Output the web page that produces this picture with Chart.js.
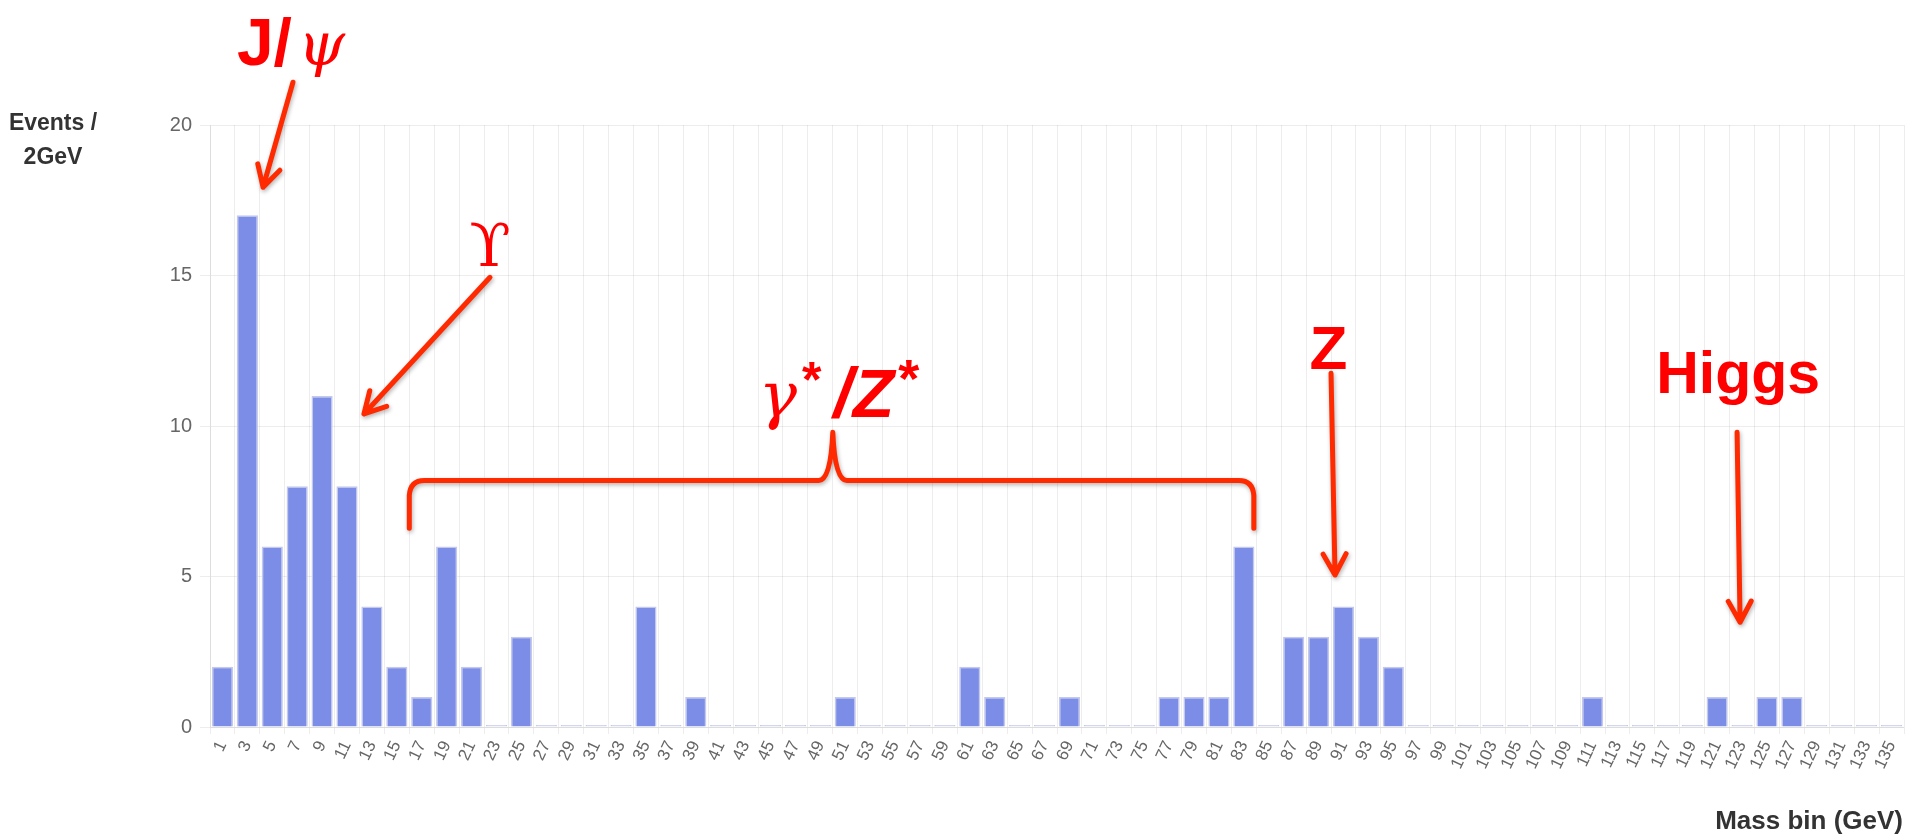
<!DOCTYPE html>
<html>
<head>
<meta charset="utf-8">
<script src="https://cdn.jsdelivr.net/npm/chart.js@4.4.0/dist/chart.umd.min.js"></script>
<style>
  html, body { margin: 0; padding: 0; background: #fff; }
  #wrap { width: 1915px; height: 836px; }
</style>
</head>
<body>
<div id="wrap"><canvas id="grafico_massa" width="1915" height="836"></canvas></div>
<script>
// ----------------------- Dados --------------------------------------------//

var massBins = ['1', '3', '5', '7', '9', '11', '13', '15', '17', '19',
  '21', '23', '25', '27', '29', '31', '33', '35', '37', '39',
  '41', '43', '45', '47', '49', '51', '53', '55', '57', '59',
  '61', '63', '65', '67', '69', '71', '73', '75', '77', '79',
  '81', '83', '85', '87', '89', '91', '93', '95', '97', '99',
  '101', '103', '105', '107', '109', '111', '113', '115', '117', '119',
  '121', '123', '125', '127', '129', '131', '133', '135'];

var events = [2, 17, 6, 8, 11, 8, 4, 2, 1, 6,
  2, 0, 3, 0, 0, 0, 0, 4, 0, 1,
  0, 0, 0, 0, 0, 1, 0, 0, 0, 0,
  2, 1, 0, 0, 1, 0, 0, 0, 1, 1,
  1, 6, 0, 3, 3, 4, 3, 2, 0, 0,
  0, 0, 0, 0, 0, 1, 0, 0, 0, 0,
  1, 0, 1, 1, 0, 0, 0, 0];

var yTicks = [0, 5, 10, 15, 20];

var labelUpsilon = 'ϒ';
var labelZ = 'Z';
var labelHiggs = 'Higgs';

// ----------------------- Anotações --------------------------------------------//

var RED = '#ff0000';
var ARROW = '#ff2a00';

var anotacoes = {
  id: 'anotacoes',
  afterDraw: function (chart) {
    var c = chart.ctx, xs = chart.scales.x, ys = chart.scales.y;
    function px(i) { return xs.getPixelForValue(i); }
    function py(v) { return ys.getPixelForValue(v); }

    c.save();

    // axis titles
    c.fillStyle = '#333';
    c.font = 'bold 23px "Liberation Sans", Arial, sans-serif';
    c.textAlign = 'center';
    c.textBaseline = 'middle';
    c.fillText('Events /', 53, 124);
    c.fillText('2GeV', 53, 158);
    c.font = 'bold 26px "Liberation Sans", Arial, sans-serif';
    c.textAlign = 'right';
    c.fillText('Mass bin (GeV)', 1903, 822);

    // red text, made of runs [text, font, dy, gap]
    function texto(runs, i, v) {
      c.textAlign = 'left';
      c.textBaseline = 'alphabetic';
      c.fillStyle = RED;
      var total = 0;
      runs.forEach(function (r) { c.font = r[1]; total += c.measureText(r[0]).width + (r[3] || 0); });
      var x = px(i) - total / 2, y = py(v);
      runs.forEach(function (r) {
        c.font = r[1];
        c.fillText(r[0], x, y + (r[2] || 0));
        x += c.measureText(r[0]).width + (r[3] || 0);
      });
    }

    function seta(i1, v1, i2, v2) {
      var x1 = px(i1), y1 = py(v1), x2 = px(i2), y2 = py(v2);
      var a = Math.atan2(y2 - y1, x2 - x1), len = 24, spread = 0.5;
      c.beginPath();
      c.moveTo(x1, y1);
      c.lineTo(x2, y2);
      c.moveTo(x2 - len * Math.cos(a - spread), y2 - len * Math.sin(a - spread));
      c.lineTo(x2, y2);
      c.lineTo(x2 - len * Math.cos(a + spread), y2 - len * Math.sin(a + spread));
      c.stroke();
    }

    function chave(l, r, mid, vH, vEnd, vPeak) {
      var L = px(l), R = px(r), M = px(mid), H = py(vH), E = py(vEnd), P = py(vPeak);
      c.beginPath();
      c.moveTo(L, E);
      c.lineTo(L, H + 15);
      c.quadraticCurveTo(L + 1, H, L + 15, H);
      c.lineTo(M - 14, H);
      c.quadraticCurveTo(M - 2, H, M, P);
      c.quadraticCurveTo(M + 2, H, M + 14, H);
      c.lineTo(R - 15, H);
      c.quadraticCurveTo(R - 1, H, R, H + 15);
      c.lineTo(R, E);
      c.stroke();
    }

    var hand = '"Liberation Sans", Arial, sans-serif';
    var serif = '"DejaVu Serif", "Liberation Serif", serif';

    texto([['J/', 'bold 66px ' + hand, 0, 6], ['ψ', 'italic 60px ' + serif]], 2.75, 22.0);
    texto([[labelUpsilon, '60px ' + serif]], 10.74, 15.3);
    texto([['γ', 'italic 64px ' + serif, 0, 5], ['*', 'bold 50px ' + hand, -20, 12],
      ['/', 'bold italic 70px ' + hand, 0, 0], ['Z', 'bold italic 68px ' + hand, 0, 4],
      ['*', 'bold 54px ' + hand, -20]], 24.75, 10.3);
    texto([[labelZ, 'bold 62px ' + hand]], 44.4, 11.9);
    texto([[labelHiggs, 'bold 59px ' + hand]], 60.84, 11.08);

    c.strokeStyle = ARROW;
    c.lineWidth = 5;
    c.lineCap = 'round';
    c.lineJoin = 'round';
    c.shadowColor = 'rgba(0,0,0,0.3)';
    c.shadowBlur = 4;
    c.shadowOffsetX = 1;
    c.shadowOffsetY = 2;

    seta(2.83, 21.42, 1.63, 17.93);
    seta(10.74, 14.94, 5.68, 10.4);
    seta(44.5, 11.75, 44.66, 5.05);
    seta(60.8, 9.79, 60.92, 3.48);
    chave(7.5, 41.4, 24.5, 8.19, 6.6, 9.79);

    c.restore();
  }
};

// ----------------------- Gráfico --------------------------------------------//

var data = {
  labels: massBins,
  datasets: [
    {
      label: 'Events / 2GeV',
      data: events,
      backgroundColor: function (ctx) { return ctx.raw === 0 ? '#d3d7f1' : '#7b8de6'; },
      borderColor: 'rgba(196,201,236,1)',
      borderWidth: 1.5,
      minBarLength: 2,
      barPercentage: 0.85,
      categoryPercentage: 1
    }
  ]
};

var options = {
  responsive: false,
  animation: false,
  devicePixelRatio: 1,
  layout: { padding: { top: 125, right: 11, bottom: 0, left: 0 } },
  plugins: {
    legend: { display: false },
    tooltip: { enabled: false }
  },
  scales: {
    x: {
      grid: { color: 'rgba(0,0,0,0.07)', tickLength: 7, offset: true },
      border: { color: 'rgba(0,0,0,0.07)' },
      ticks: {
        autoSkip: false,
        minRotation: 65,
        maxRotation: 65,
        padding: 4,
        color: '#666',
        font: { family: '"Liberation Sans", Arial, sans-serif', size: 17 }
      },
      afterFit: function (scale) { scale.height = 109; }
    },
    y: {
      min: 0,
      max: 20,
      grid: { color: 'rgba(0,0,0,0.07)', tickLength: 10 },
      border: { color: 'rgba(0,0,0,0.07)' },
      ticks: {
        padding: 8,
        color: '#666',
        font: { family: '"Liberation Sans", Arial, sans-serif', size: 20 }
      },
      afterBuildTicks: function (scale) {
        scale.ticks = yTicks.map(function (v) { return { value: v }; });
      },
      afterFit: function (scale) { scale.width = 210; }
    }
  }
};

var ctx = document.getElementById('grafico_massa').getContext('2d');
var grafico_massa = new Chart(ctx, {
  type: 'bar',
  data: data,
  options: options,
  plugins: [anotacoes]
});
</script>
</body>
</html>
